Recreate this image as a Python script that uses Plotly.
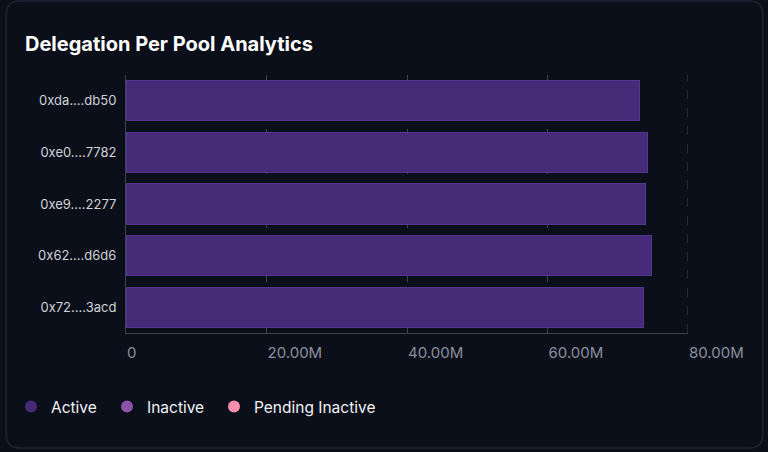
import plotly.graph_objects as go

# pools shown top -> bottom
pools = ["0xda....db50", "0xe0....7782", "0xe9....2277", "0x62....d6d6", "0x72....3acd"]
active = [73.1e6, 74.3e6, 74.0e6, 74.8e6, 73.6e6]
inactive = [0, 0, 0, 0, 0]
pending_inactive = [0, 0, 0, 0, 0]

tick_vals = [0, 20e6, 40e6, 60e6, 80e6]
tick_text = ["0", "20.00M", "40.00M", "60.00M", "80.00M"]

series = [
    ("Active", active, "#452a78"),
    ("Inactive", inactive, "#8a52a8"),
    ("Pending Inactive", pending_inactive, "#f58fb0"),
]

BG = "#0b0f1a"
GRID = "#3d4452"

# plot area in pixels
L, R, T, B = 125, 688, 75, 333
def px(x):
    return (x - L) / (R - L)
def py(y):
    return (B - y) / (B - T)

legend_ids = ["legend", "legend2", "legend3"]
legend_left = [11, 107, 214]  # pixel x where each legend entry starts

fig = go.Figure()
for (name, vals, color), lid in zip(series, legend_ids):
    fig.add_trace(go.Bar(
        y=pools, x=vals, orientation="h", name=name, legendgroup=name,
        marker=dict(color=color, line=dict(color="#52388e", width=1)),
        showlegend=False, hoverinfo="x+y+name",
    ))
    # legend entry with round marker
    fig.add_trace(go.Scatter(
        x=[None], y=[None], mode="markers", name=name, legendgroup=name,
        legend=lid, marker=dict(color=color, size=12, symbol="circle"),
    ))

# card outline (rounded)
x0, x1, y0, y1, r = 5, 763, 1, 448, 14
path = (f"M {px(x0 + r)} {py(y0)} L {px(x1 - r)} {py(y0)} "
        f"Q {px(x1)} {py(y0)} {px(x1)} {py(y0 + r)} L {px(x1)} {py(y1 - r)} "
        f"Q {px(x1)} {py(y1)} {px(x1 - r)} {py(y1)} L {px(x0 + r)} {py(y1)} "
        f"Q {px(x0)} {py(y1)} {px(x0)} {py(y1 - r)} L {px(x0)} {py(y0 + r)} "
        f"Q {px(x0)} {py(y0)} {px(x0 + r)} {py(y0)} Z")

legend_style = dict(orientation="h", xanchor="left", y=py(407), yanchor="middle",
                    font=dict(size=15.5, color="#f2f3f5"), bgcolor="rgba(0,0,0,0)",
                    itemclick=False)

fig.update_layout(
    width=768, height=452,
    margin=dict(l=L, r=768 - R, t=T, b=452 - B),
    paper_bgcolor=BG, plot_bgcolor=BG,
    font=dict(family="Inter, Roboto, sans-serif", color="#e6e8ec", size=13),
    title=dict(text="<b>Delegation Per Pool Analytics</b>", x=25 / 768, xanchor="left",
               y=1 - 44 / 452, yanchor="middle",
               font=dict(size=20, color="#ffffff")),
    barmode="stack", bargap=0.22,
    showlegend=True,
    legend=dict(x=px(legend_left[0]), **legend_style),
    legend2=dict(x=px(legend_left[1]), **legend_style),
    legend3=dict(x=px(legend_left[2]), **legend_style),
    shapes=[
        dict(type="path", xref="paper", yref="paper", path=path,
             line=dict(color="#1e2532", width=1.5), fillcolor="rgba(0,0,0,0)",
             layer="below"),
        # last gridline sits on the plot edge, plotly drops it
        dict(type="line", xref="x", yref="paper", x0=tick_vals[-1], x1=tick_vals[-1],
             y0=0, y1=1, line=dict(color=GRID, width=1, dash="dash"), layer="below"),
    ],
)
fig.update_xaxes(
    range=[0, 80e6], tickvals=tick_vals, ticktext=tick_text,
    ticklabelposition="outside right", ticks="outside", ticklen=8, tickcolor="rgba(0,0,0,0)",
    ticklabelstandoff=6,
    showgrid=True, gridcolor=GRID, griddash="dash", gridwidth=1,
    zeroline=False, showline=True, linecolor="#3a4150", linewidth=1,
    tickfont=dict(size=15, color="#8a919e"),
)
fig.update_yaxes(
    autorange="reversed", showgrid=False, zeroline=False,
    showline=True, linecolor="#3a4150", linewidth=1,
    ticks="outside", ticklen=6, tickcolor="rgba(0,0,0,0)",
    tickfont=dict(size=13, color="#d0d3d9"),
)

fig.write_html("out.html", config={"displayModeBar": False},
               post_script="document.body.style.margin='0px';")
